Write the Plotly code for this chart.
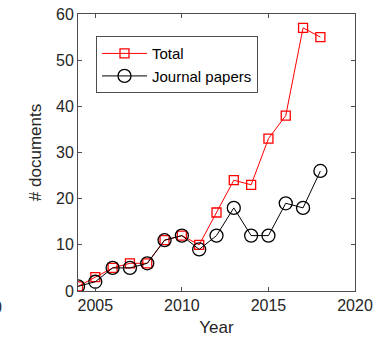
import plotly.graph_objects as go

years = [2004, 2005, 2006, 2007, 2008, 2009, 2010, 2011, 2012, 2013, 2014, 2015, 2016, 2017, 2018]
total = [1, 3, 5, 6, 6, 11, 12, 10, 17, 24, 23, 33, 38, 57, 55]
journal = [1, 2, 5, 5, 6, 11, 12, 9, 12, 18, 12, 12, 19, 18, 26]
x_ticks = [2005, 2010, 2015, 2020]
y_ticks = [0, 10, 20, 30, 40, 50, 60]

FONT = "Liberation Sans, Arial, sans-serif"

fig = go.Figure()
fig.add_trace(go.Scatter(
    x=years, y=total, name="Total", mode="lines+markers",
    line=dict(color="#ff0000", width=1),
    marker=dict(symbol="square-open", size=9, color="#ff0000", line=dict(width=1.3)),
))
fig.add_trace(go.Scatter(
    x=years, y=journal, name="Journal papers", mode="lines+markers",
    line=dict(color="#000000", width=1),
    marker=dict(symbol="circle-open", size=13, color="#000000", line=dict(width=1.3)),
))

axis_common = dict(
    showgrid=False, zeroline=False, showline=True, linecolor="#4d4d4d", linewidth=1,
    ticks="inside", ticklen=4, tickcolor="#4d4d4d", mirror="ticks", automargin=False,
    tickfont=dict(family=FONT, size=16, color="#262626"),
)
fig.update_xaxes(range=[2004, 2020], tickvals=x_ticks, **axis_common,
                 title=dict(text="Year", font=dict(family=FONT, size=17, color="#262626"), standoff=8))
fig.update_yaxes(range=[0, 60], tickvals=y_ticks, **axis_common,
                 title=dict(text="# documents", font=dict(family=FONT, size=17, color="#262626"), standoff=10))

fig.add_annotation(text="0", xref="paper", yref="paper", x=-0.267, y=-0.02,
                   xanchor="right", yanchor="top", showarrow=False,
                   font=dict(family=FONT, size=16, color="#262626"))

fig.update_layout(
    width=389, height=337,
    margin=dict(l=78, r=34, t=14, b=46, autoexpand=False),
    plot_bgcolor="white", paper_bgcolor="white",
    showlegend=True,
    hovermode=False,
    legend=dict(x=0.065, y=0.92, xanchor="left", yanchor="top",
                bordercolor="#4d4d4d", borderwidth=1, bgcolor="white",
                font=dict(family=FONT, size=15, color="#000000"),
                tracegroupgap=0, itemwidth=45),
)

fig.write_html("out.html",
               config={"displayModeBar": False, "staticPlot": True},
               post_script="document.body.style.margin='0';document.body.style.overflow='hidden';")
